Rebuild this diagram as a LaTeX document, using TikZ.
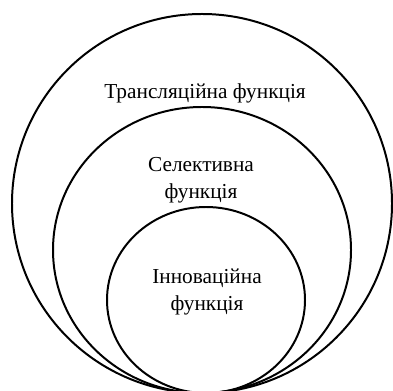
\documentclass[tikz,border=0pt]{standalone}
\usepackage{fontspec}
\setmainfont{Liberation Serif}
\usepackage{tikz}
\usetikzlibrary{shapes.geometric}

\begin{document}
\begin{tikzpicture}
\tikzstyle{ring}=[ellipse,draw,line width=1.7pt,inner sep=0pt]
\tikzstyle{label}=[align=center,font=\fontsize{18.2}{23}\selectfont]

\useasboundingbox (0,0) rectangle (11.79,11.7);

\node [ring, minimum width=11.4cm, minimum height=11.37cm] (outer) at (6.06,5.595) {};
\node [ring, minimum width=8.94cm, minimum height=8.58cm] (middle) at (6.06,4.2) {};
\node [ring, minimum width=5.94cm, minimum height=5.58cm] (inner) at (6.18,2.7) {};

\node [label] (transl) at (6.15,8.91) {Трансляційна функція};
\node [label] (select) at (6.03,6.3) {Селективна\\функція};
\node [label] (innov) at (6.21,2.94) {Інноваційна\\функція};

\end{tikzpicture}
\end{document}
